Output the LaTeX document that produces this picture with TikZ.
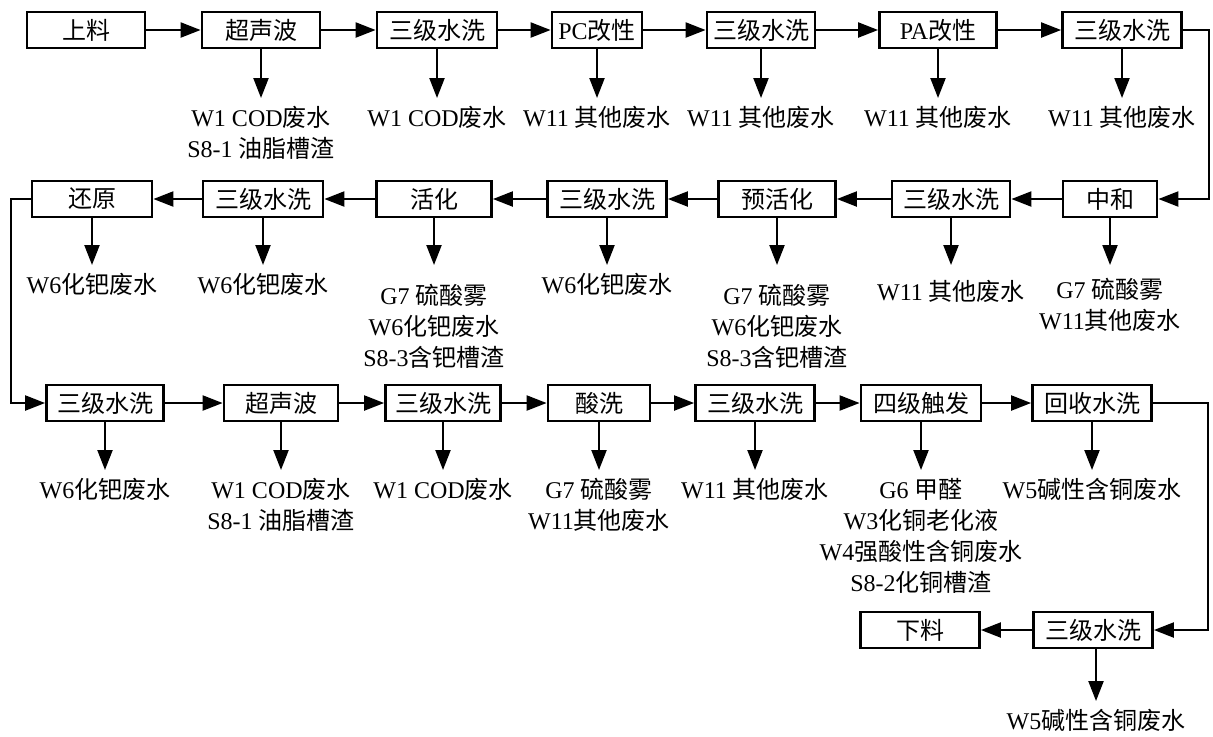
\documentclass[tikz,border=0pt]{standalone}
\usepackage{fontspec}
\setmainfont{Liberation Serif}
\newfontfamily\cjk{Noto Sans CJK SC}
\usetikzlibrary{arrows.meta}
\newcommand{\zh}[1]{{\cjk #1}}

\begin{document}
\begin{tikzpicture}[
			x=0.5pt, y=-0.5pt,
			box/.style={draw=black, line width=1.4pt, minimum height=18pt, inner sep=0pt, font=\cjk\fontsize{12}{14}\selectfont},
			waste/.style={anchor=north, align=center, inner sep=4pt, font=\fontsize{12}{15.5}\selectfont},
			flow/.style={line width=1.1pt, -{Triangle[length=10pt, width=7.5pt]}}
		]
			\useasboundingbox (0,0) rectangle (1213,736);
			% first row
			\node[box, minimum width=59pt] (feed) at (86,30) {上料};
			\node[box, minimum width=59pt] (us1) at (261,30) {超声波};
			\node[box, minimum width=60pt] (wa1) at (437,30) {三级水洗};
			\node[box, minimum width=45pt] (pc) at (597,30) {{\rmfamily PC}改性};
			\node[box, minimum width=54pt] (wa2) at (761,30) {三级水洗};
			\node[box, minimum width=58.5pt] (pa) at (938,30) {{\rmfamily PA}改性};
			\node[box, minimum width=59.5pt] (wa3) at (1122,30) {三级水洗};
			\node[waste] (us1-o) at (261,98) {W1 COD\zh{废水}\\S8-1 \zh{油脂槽渣}};
			\node[waste] (wa1-o) at (437,98) {W1 COD\zh{废水}};
			\node[waste] (pc-o) at (597,98) {W11 \zh{其他废水}};
			\node[waste] (wa2-o) at (761,98) {W11 \zh{其他废水}};
			\node[waste] (pa-o) at (938,98) {W11 \zh{其他废水}};
			\node[waste] (wa3-o) at (1122,98) {W11 \zh{其他废水}};
			% second row
			\node[box, minimum width=60pt] (hy) at (92,199) {还原};
			\node[box, minimum width=60pt] (wa4) at (263,199) {三级水洗};
			\node[box, minimum width=57.5pt] (act) at (434,199) {活化};
			\node[box, minimum width=59.5pt] (wa5) at (607,199) {三级水洗};
			\node[box, minimum width=58.5pt] (pre) at (777,199) {预活化};
			\node[box, minimum width=59pt] (wa6) at (951,199) {三级水洗};
			\node[box, minimum width=47pt] (neu) at (1110,199) {中和};
			\node[waste] (hy-o) at (92,265) {W6\zh{化钯废水}};
			\node[waste] (wa4-o) at (263,265) {W6\zh{化钯废水}};
			\node[waste] (act-o) at (434,276) {G7 \zh{硫酸雾}\\W6\zh{化钯废水}\\S8-3\zh{含钯槽渣}};
			\node[waste] (wa5-o) at (607,265) {W6\zh{化钯废水}};
			\node[waste] (pre-o) at (777,276) {G7 \zh{硫酸雾}\\W6\zh{化钯废水}\\S8-3\zh{含钯槽渣}};
			\node[waste] (wa6-o) at (951,272) {W11 \zh{其他废水}};
			\node[waste] (neu-o) at (1110,270) {G7 \zh{硫酸雾}\\W11\zh{其他废水}};
			% third row
			\node[box, minimum width=58.5pt] (wa7) at (105,403) {三级水洗};
			\node[box, minimum width=57pt] (us2) at (281,403) {超声波};
			\node[box, minimum width=57.5pt] (wa8) at (443,403) {三级水洗};
			\node[box, minimum width=51pt] (pk) at (599,403) {酸洗};
			\node[box, minimum width=59.5pt] (wa9) at (755,403) {三级水洗};
			\node[box, minimum width=60pt] (tr) at (921,403) {四级触发};
			\node[box, minimum width=59.5pt] (rw) at (1092,403) {回收水洗};
			\node[waste] (wa7-o) at (105,470) {W6\zh{化钯废水}};
			\node[waste] (us2-o) at (281,470) {W1 COD\zh{废水}\\S8-1 \zh{油脂槽渣}};
			\node[waste] (wa8-o) at (443,470) {W1 COD\zh{废水}};
			\node[waste] (pk-o) at (599,470) {G7 \zh{硫酸雾}\\W11\zh{其他废水}};
			\node[waste] (wa9-o) at (755,470) {W11 \zh{其他废水}};
			\node[waste] (tr-o) at (921,470) {G6 \zh{甲醛}\\W3\zh{化铜老化液}\\W4\zh{强酸性含铜废水}\\S8-2\zh{化铜槽渣}};
			\node[waste] (rw-o) at (1092,470) {W5\zh{碱性含铜废水}};
			% last row
			\node[box, minimum width=59.5pt] (unload) at (920,630) {下料};
			\node[box, minimum width=59.5pt] (wa10) at (1093,630) {三级水洗};
			\node[waste] (wa10-o) at (1096,701) {W5\zh{碱性含铜废水}};

			\draw[flow] (feed) -- (us1);
			\draw[flow] (us1) -- (wa1);
			\draw[flow] (wa1) -- (pc);
			\draw[flow] (pc) -- (wa2);
			\draw[flow] (wa2) -- (pa);
			\draw[flow] (pa) -- (wa3);
			\draw[flow] (wa3.east) -- ++(26,0) |- (neu.east);
			\draw[flow] (neu) -- (wa6);
			\draw[flow] (wa6) -- (pre);
			\draw[flow] (pre) -- (wa5);
			\draw[flow] (wa5) -- (act);
			\draw[flow] (act) -- (wa4);
			\draw[flow] (wa4) -- (hy);
			\draw[flow] (hy.west) -- ++(-20,0) |- (wa7.west);
			\draw[flow] (wa7) -- (us2);
			\draw[flow] (us2) -- (wa8);
			\draw[flow] (wa8) -- (pk);
			\draw[flow] (pk) -- (wa9);
			\draw[flow] (wa9) -- (tr);
			\draw[flow] (tr) -- (rw);
			\draw[flow] (rw.east) -- ++(55,0) |- (wa10.east);
			\draw[flow] (wa10) -- (unload);
			% discharges
			\foreach \n in {us1,wa1,pc,wa2,pa,wa3,hy,wa4,wa5,us2,wa7,wa8,pk,wa9,tr,rw}
				\draw[flow] (\n.south) -- (\n-o.north);
			\draw[flow, shorten >=5.5pt] (act.south) -- (act-o.north);
			\draw[flow, shorten >=5.5pt] (pre.south) -- (pre-o.north);
			\draw[flow, shorten >=3.5pt] (wa6.south) -- (wa6-o.north);
			\draw[flow, shorten >=2.5pt] (neu.south) -- (neu-o.north);
			\draw[flow] (wa10.south -| wa10-o.north) -- (wa10-o.north);
		\end{tikzpicture}
\end{document}
